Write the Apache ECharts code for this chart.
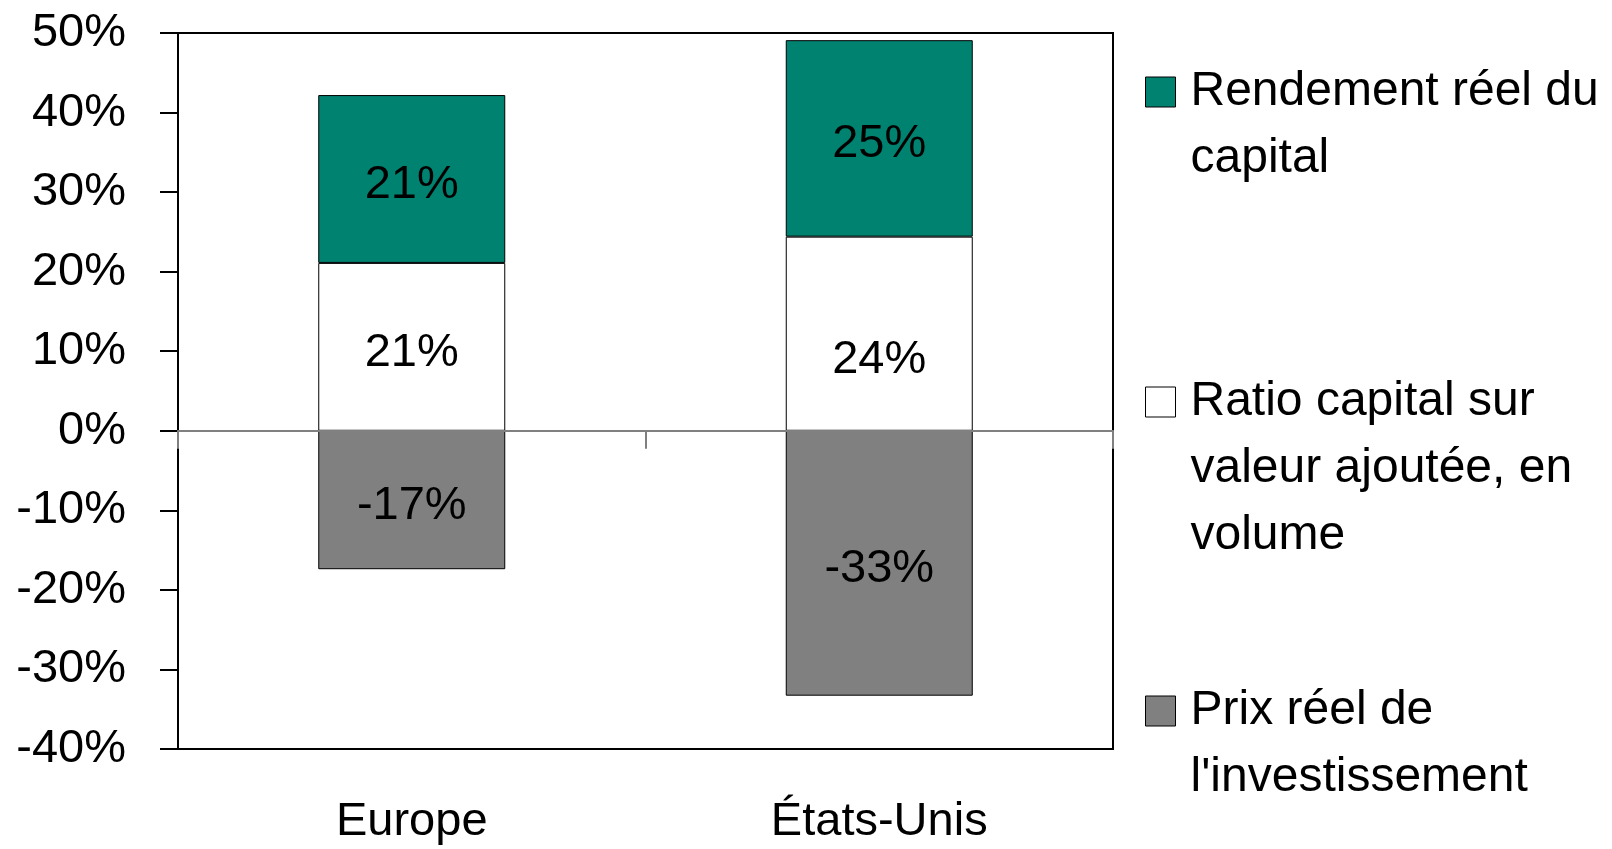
<!DOCTYPE html>
<html>
<head>
<meta charset="utf-8">
<script src="https://cdn.jsdelivr.net/npm/echarts@6/dist/echarts.min.js"></script>
<style>
  html, body { margin: 0; padding: 0; background: #fff; }
  #chart { width: 1612px; height: 849px; }
</style>
</head>
<body>
<div id="chart"></div>
<script>
// data (percent)
const categories = ["Europe", "États-Unis"];
const rendement = [21.1, 24.7];
const ratio = [21.1, 24.4];
const prix = [-17.4, -33.3];
const yTicks = [-40, -30, -20, -10, 0, 10, 20, 30, 40, 50];

const FONT = "'Liberation Sans', Arial, sans-serif";
const FS = 47;
const LH = 67;
const GREEN = "#008270";
const GREY = "#808080";

const chart = echarts.init(document.getElementById("chart"));

const labelStyle = {
  show: true,
  position: "inside",
  offset: [0, 6],
  color: "#000",
  fontFamily: FONT,
  fontSize: FS,
  formatter: p => Math.round(p.value) + "%"
};
const barBorder = { borderColor: "#000", borderWidth: 1 };

// one legend per entry; the icon path is padded down and right so the square
// sits on the first text line with a bit of room before the text
function legendFor(name, lines, iconCenter) {
  const h = 2 * ((lines - 1) * LH / 2 + 15);
  const w = 40;
  return {
    orient: "vertical",
    left: 1145,
    top: iconCenter - 15 - ((lines * LH) / 2 - h / 2),
    padding: 0,
    itemWidth: w,
    itemHeight: h,
    selectedMode: false,
    icon: "path://M0,0H30V30H0Z M" + w + "," + h + "L" + w + "," + h,
    data: [name],
    textStyle: {
      fontFamily: FONT,
      fontSize: 48,
      lineHeight: LH,
      color: "#000"
    },
    itemStyle: { borderColor: "#000", borderWidth: 1 }
  };
}

chart.setOption({
  animation: false,
  backgroundColor: "#fff",
  grid: {
    left: 178,
    right: 499,
    top: 33,
    bottom: 100,
    show: true,
    borderColor: "#000",
    borderWidth: 2
  },
  legend: [
    legendFor("Rendement réel du\ncapital", 2, 92),
    legendFor("Ratio capital sur\nvaleur ajoutée, en\nvolume", 3, 402),
    legendFor("Prix réel de\nl'investissement", 2, 711)
  ],
  xAxis: [
    {
      type: "category",
      data: categories,
      position: "bottom",
      axisLine: { show: false, onZero: false },
      axisTick: { show: false },
      axisLabel: {
        margin: 50,
        color: "#000",
        fontFamily: FONT,
        fontSize: FS
      }
    },
    {
      type: "category",
      data: categories,
      position: "bottom",
      z: 5,
      axisLine: { show: true, onZero: true, onZeroAxisIndex: 0, lineStyle: { color: GREY, width: 2 } },
      axisTick: { show: true, length: 18, lineStyle: { color: GREY, width: 2 } },
      axisLabel: { show: false }
    }
  ],
  yAxis: {
    type: "value",
    min: yTicks[0],
    max: yTicks[yTicks.length - 1],
    interval: 10,
    axisLine: { show: true, lineStyle: { color: "#000", width: 2 } },
    axisTick: { show: true, length: 18, lineStyle: { color: "#000", width: 2 } },
    splitLine: { show: false },
    axisLabel: {
      margin: 52,
      color: "#000",
      fontFamily: FONT,
      fontSize: FS,
      formatter: "{value}%"
    }
  },
  series: [
    {
      name: "Ratio capital sur\nvaleur ajoutée, en\nvolume",
      type: "bar",
      stack: "total",
      barWidth: "40%",
      itemStyle: Object.assign({ color: "#fff" }, barBorder),
      label: labelStyle,
      data: ratio.map((v, i) => i === 1 ? { value: v, label: { offset: [0, 26] } } : v)
    },
    {
      name: "Rendement réel du\ncapital",
      type: "bar",
      stack: "total",
      barWidth: "40%",
      itemStyle: Object.assign({ color: GREEN }, barBorder),
      label: labelStyle,
      data: rendement
    },
    {
      name: "Prix réel de\nl'investissement",
      type: "bar",
      stack: "total",
      barWidth: "40%",
      itemStyle: Object.assign({ color: GREY }, barBorder),
      label: labelStyle,
      data: prix
    }
  ]
});
</script>
</body>
</html>
